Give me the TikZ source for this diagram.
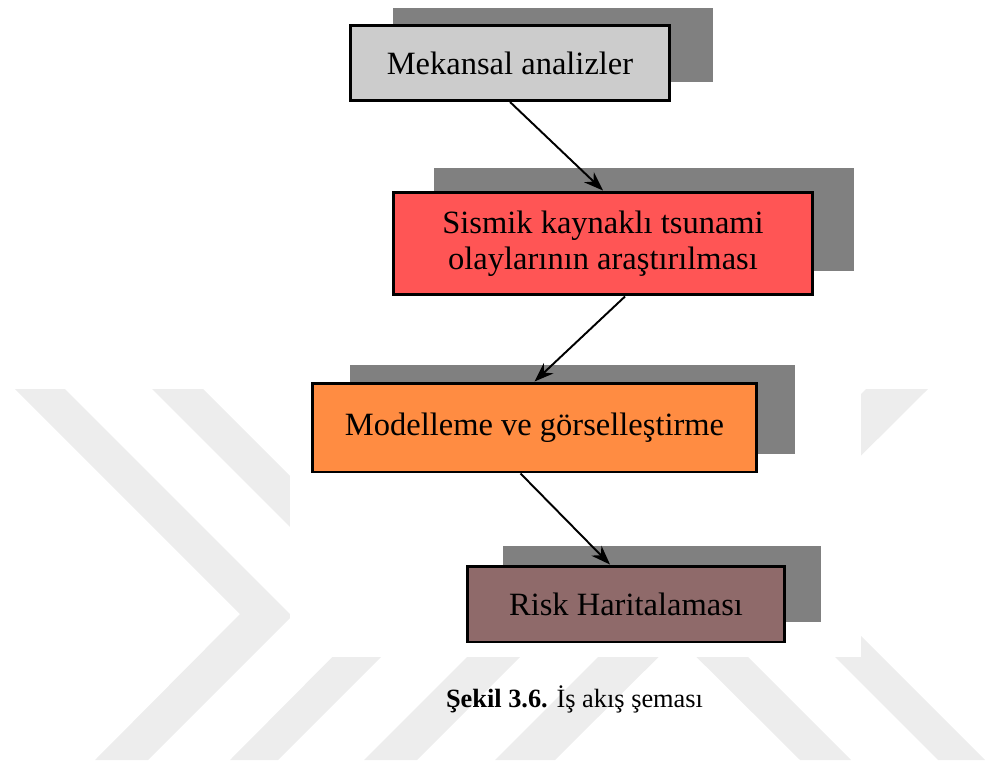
\documentclass[tikz,border=0pt]{standalone}
\usepackage{fontspec}
\setmainfont{Liberation Serif}
\usetikzlibrary{arrows.meta,positioning,shadows}

\begin{document}
\begin{tikzpicture}[x=0.02cm, y=-0.02cm]
\tikzset{
    flowbox/.style={rectangle, draw=black, line width=1.7pt, inner sep=0pt, align=center, font=\fontsize{18.5}{20.5}\selectfont},
    boxshadow/.style 2 args={drop shadow={shadow xshift=#1, shadow yshift=#2, fill=gray, opacity=1}},
    flowarrow/.style={-{Stealth[length=11pt, width=8pt]}, line width=1.1pt},
    wmark/.style={fill=black!7, draw=none}
}
\useasboundingbox (0,0) rectangle (986,763);

% watermark stripes behind the figure
\fill[wmark] (15,389) -- (65,389) -- (292,616) -- (148,760) -- (95,760) -- (240,614) -- cycle;
\fill[wmark] (152,389) -- (203,389) -- (426,612) -- (278,760) -- (230,760) -- (376,613) -- cycle;
\fill[wmark] (735,389) -- (788,389) -- (417,760) -- (364,760) -- cycle;
\fill[wmark] (866,389) -- (928,389) -- (555,760) -- (495,760) -- cycle;
\fill[wmark] (427,389) -- (480,389) -- (851,760) -- (800,760) -- cycle;
\fill[wmark] (567,389) -- (614,389) -- (985,760) -- (938,760) -- cycle;
\fill[white] (290,0) rectangle (861,657);

\node[flowbox, fill=black!20, minimum width=6.4cm, minimum height=1.5cm, boxshadow={0.86cm}{0.36cm}] (mekansal) at (510,63) {Mekansal analizler};
\node[flowbox, fill={rgb,255:red,255;green,85;blue,85}, minimum width=8.4cm, minimum height=2.06cm, boxshadow={0.82cm}{0.48cm}] (sismik) at (603,243.5) {Sismik kaynaklı tsunami\\olaylarının araştırılması};
\node[flowbox, fill={rgb,255:red,255;green,140;blue,66}, minimum width=8.9cm, minimum height=1.78cm, boxshadow={0.76cm}{0.36cm}] (modelleme) at (534.5,427.5) {Modelleme ve görselleştirme};
\node[flowbox, fill={rgb,255:red,143;green,106;blue,106}, minimum width=6.36cm, minimum height=1.52cm, boxshadow={0.72cm}{0.40cm}] (risk) at (626,604) {Risk Haritalaması};

\draw[flowarrow] (mekansal.south) -- (sismik.north);
\draw[flowarrow] ([xshift=0.44cm]sismik.south) -- (modelleme.north);
\draw[flowarrow] ([xshift=-0.28cm]modelleme.south) -- ([xshift=-0.32cm]risk.north);

% caption under the figure
\node[anchor=base, font=\fontsize{15}{18}\selectfont] (caption) at (574.5,707) {\textbf{Şekil 3.6.} İş akış şeması};
\end{tikzpicture}
\end{document}
